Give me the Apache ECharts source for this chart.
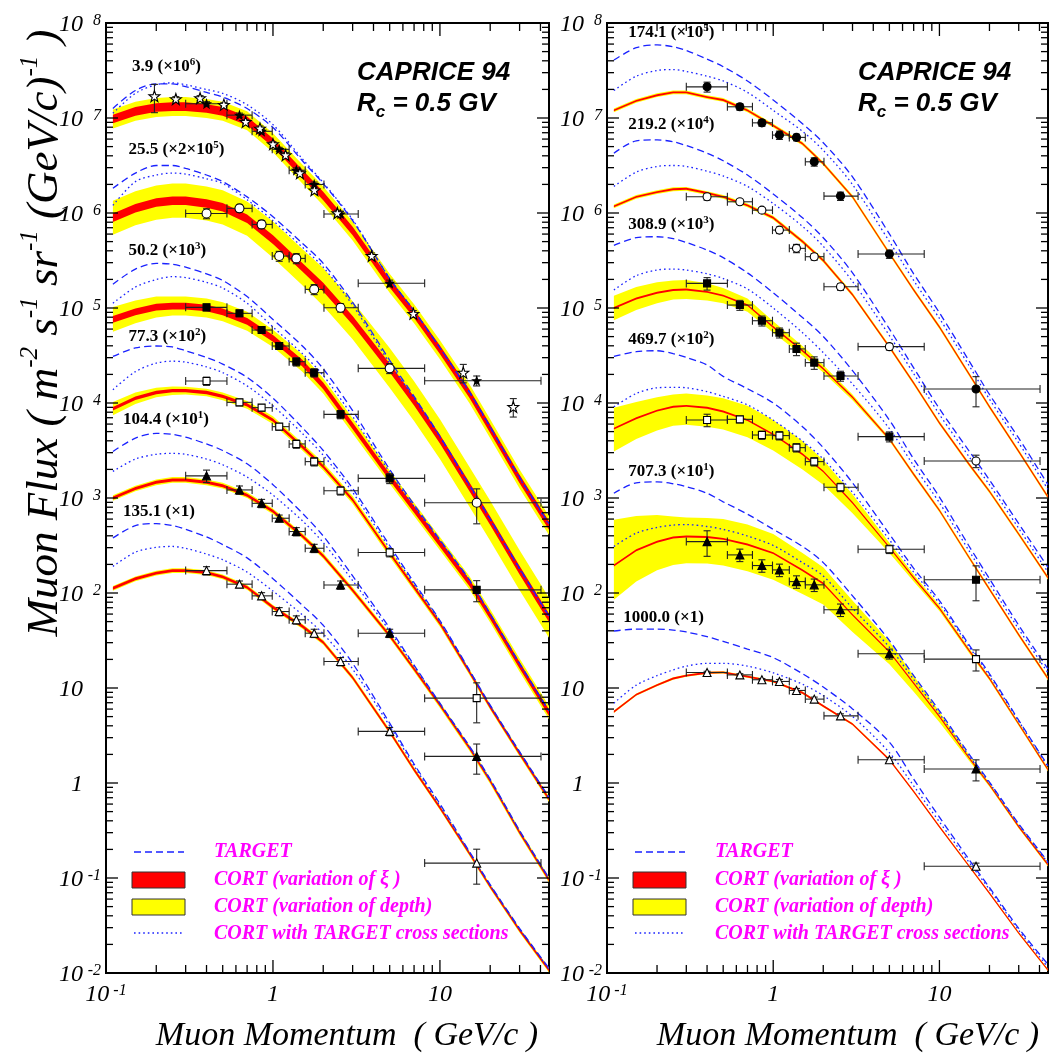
<!DOCTYPE html>
<html><head><meta charset="utf-8">
<script src="https://cdn.jsdelivr.net/npm/echarts@6.0.0/dist/echarts.min.js"></script>
<style>html,body{margin:0;padding:0;background:#fff}#c{width:1051px;height:1057px}</style>
</head><body><div id="c"></div>
<script>
// ---------------- DATA ----------------
// Momentum samples (GeV/c) for the model curves
const momentum = [0.11, 0.15, 0.2, 0.25, 0.3, 0.4, 0.5, 0.7, 1, 1.5, 2, 3, 5, 7, 10, 15, 20, 30, 45];
// All flux values below are log10 of the (scaled) muon flux in m^-2 s^-1 sr^-1 (GeV/c)^-1

// LEFT PANEL --- 3.9 g/cm2 (x10^6)
const L1_cort   = [6.99, 7.07, 7.11, 7.12, 7.12, 7.10, 7.07, 6.97, 6.74, 6.41, 6.18, 5.81, 5.26, 4.94, 4.56, 4.10, 3.73, 3.20, 2.71];
const L1_target = [7.10, 7.29, 7.36, 7.36, 7.33, 7.27, 7.22, 7.10, 6.90, 6.55, 6.31, 5.92, 5.31, 4.97, 4.58, 4.12, 3.75, 3.22, 2.73];
const L1_cortTX = [7.05, 7.26, 7.35, 7.37, 7.35, 7.30, 7.26, 7.14, 6.93, 6.57, 6.32, 5.93, 5.31, 4.97, 4.58, 4.11, 3.74, 3.21, 2.72];
const L1_depthHalf = 0.10, L1_xiHalf = 0.045;
// 25.5 g/cm2 (x2x10^5)
const L2_cort   = [5.95, 6.05, 6.11, 6.13, 6.13, 6.10, 6.06, 5.94, 5.72, 5.43, 5.22, 4.87, 4.37, 4.02, 3.62, 3.12, 2.76, 2.24, 1.74];
const L2_target = [6.26, 6.42, 6.50, 6.50, 6.47, 6.40, 6.33, 6.17, 5.96, 5.68, 5.47, 5.06, 4.45, 4.07, 3.65, 3.14, 2.78, 2.26, 1.76];
const L2_cortTX = [6.08, 6.33, 6.40, 6.42, 6.41, 6.36, 6.31, 6.14, 5.92, 5.64, 5.43, 5.03, 4.42, 4.05, 3.64, 3.13, 2.77, 2.25, 1.75];
const L2_depthHalf = [0.18, 0.18, 0.18, 0.18, 0.18, 0.18, 0.18, 0.18, 0.19, 0.19, 0.20, 0.20, 0.21, 0.21, 0.21, 0.21, 0.21, 0.21, 0.21];
const L2_xiHalf = 0.045;
// 50.2 g/cm2 (x10^3)
const L3_cort   = [4.88, 4.96, 5.01, 5.02, 5.02, 5.00, 4.96, 4.86, 4.68, 4.42, 4.18, 3.76, 3.22, 2.88, 2.52, 2.11, 1.76, 1.24, 0.74];
const L3_target = [5.25, 5.41, 5.47, 5.46, 5.43, 5.36, 5.29, 5.12, 4.88, 4.60, 4.36, 3.92, 3.30, 2.93, 2.56, 2.14, 1.78, 1.26, 0.76];
const L3_cortTX = [5.05, 5.22, 5.30, 5.33, 5.32, 5.27, 5.21, 5.05, 4.80, 4.52, 4.29, 3.86, 3.27, 2.91, 2.55, 2.13, 1.77, 1.25, 0.75];
const L3_depthHalf = [0.13, 0.12, 0.11, 0.10, 0.10, 0.10, 0.10, 0.10, 0.09, 0.09, 0.08, 0.08, 0.07, 0.07, 0.07, 0.07, 0.07, 0.07, 0.07];
const L3_xiHalf = 0.035;
// 77.3 g/cm2 (x10^2)
const L4_cort   = [3.94, 4.05, 4.11, 4.13, 4.13, 4.11, 4.07, 3.98, 3.82, 3.54, 3.33, 2.98, 2.42, 2.06, 1.68, 1.17, 0.80, 0.31, -0.17];
const L4_target = [4.49, 4.58, 4.60, 4.59, 4.55, 4.48, 4.41, 4.27, 4.05, 3.74, 3.50, 3.10, 2.50, 2.11, 1.71, 1.19, 0.82, 0.33, -0.15];
const L4_cortTX = [4.14, 4.33, 4.42, 4.44, 4.43, 4.38, 4.32, 4.18, 3.97, 3.68, 3.45, 3.06, 2.47, 2.09, 1.70, 1.18, 0.81, 0.32, -0.16];
const L4_depthHalf = [0.07, 0.06, 0.05, 0.045, 0.04, 0.04, 0.04, 0.04, 0.04, 0.04, 0.04, 0.04, 0.04, 0.035, 0.035, 0.03, 0.03, 0.03, 0.03];
const L4_xiHalf = 0.018;
// 104.4 g/cm2 (x10)
const L5_cort   = [3.00, 3.10, 3.165, 3.19, 3.19, 3.165, 3.13, 3.03, 2.86, 2.60, 2.39, 2.03, 1.55, 1.20, 0.82, 0.37, 0.02, -0.52, -1.02];
const L5_target = [3.49, 3.63, 3.68, 3.67, 3.64, 3.57, 3.50, 3.36, 3.14, 2.84, 2.60, 2.18, 1.63, 1.24, 0.84, 0.39, 0.04, -0.50, -1.00];
const L5_cortTX = [3.28, 3.41, 3.46, 3.47, 3.46, 3.41, 3.35, 3.22, 3.03, 2.76, 2.53, 2.13, 1.60, 1.23, 0.83, 0.38, 0.03, -0.51, -1.01];
const L5_depthHalf = 0.03, L5_xiHalf = 0.016;
// 135.1 g/cm2 (x1)
const L6_cort   = [2.05, 2.15, 2.21, 2.235, 2.235, 2.215, 2.17, 2.06, 1.85, 1.65, 1.48, 1.11, 0.54, 0.14, -0.26, -0.74, -1.09, -1.55, -1.97];
const L6_target = [2.58, 2.71, 2.73, 2.71, 2.67, 2.59, 2.51, 2.37, 2.15, 1.87, 1.66, 1.26, 0.63, 0.20, -0.22, -0.72, -1.07, -1.53, -1.95];
const L6_cortTX = [2.28, 2.43, 2.48, 2.49, 2.47, 2.41, 2.35, 2.22, 2.02, 1.77, 1.57, 1.20, 0.60, 0.18, -0.24, -0.73, -1.08, -1.54, -1.96];
const L6_depthHalf = 0.025, L6_xiHalf = 0.015;

// RIGHT PANEL --- 174.1 g/cm2 (x10^5)
const R1_cort   = [7.08, 7.18, 7.24, 7.27, 7.27, 7.22, 7.19, 7.08, 6.92, 6.73, 6.52, 6.17, 5.575, 5.19, 4.80, 4.31, 3.96, 3.49, 3.01];
const R1_target = [7.61, 7.74, 7.77, 7.75, 7.71, 7.62, 7.54, 7.39, 7.19, 6.94, 6.74, 6.38, 5.78, 5.36, 4.95, 4.45, 4.09, 3.63, 3.14];
const R1_cortTX = [7.29, 7.44, 7.50, 7.51, 7.49, 7.44, 7.39, 7.27, 7.08, 6.86, 6.66, 6.30, 5.70, 5.29, 4.89, 4.40, 4.04, 3.58, 3.09];
const R1_depthHalf = 0.02, R1_xiHalf = 0.01;
// 219.2 g/cm2 (x10^4)
const R2_cort   = [6.07, 6.17, 6.22, 6.25, 6.255, 6.21, 6.17, 6.08, 5.95, 5.70, 5.50, 5.14, 4.59, 4.21, 3.79, 3.36, 3.07, 2.62, 2.16];
const R2_target = [6.63, 6.76, 6.77, 6.75, 6.71, 6.63, 6.55, 6.40, 6.20, 5.95, 5.74, 5.37, 4.78, 4.37, 3.94, 3.50, 3.19, 2.73, 2.27];
const R2_cortTX = [6.28, 6.43, 6.49, 6.50, 6.49, 6.44, 6.39, 6.28, 6.10, 5.86, 5.65, 5.28, 4.71, 4.31, 3.88, 3.44, 3.14, 2.68, 2.22];
const R2_depthHalf = 0.02, R2_xiHalf = 0.01;
// 308.9 g/cm2 (x10^3)
const R3_cort   = [5.00, 5.10, 5.16, 5.19, 5.195, 5.17, 5.13, 5.03, 4.80, 4.55, 4.36, 4.06, 3.62, 3.25, 2.87, 2.38, 2.04, 1.56, 1.10];
const R3_target = [5.66, 5.74, 5.75, 5.73, 5.69, 5.61, 5.53, 5.37, 5.16, 4.90, 4.70, 4.34, 3.82, 3.41, 3.01, 2.50, 2.15, 1.66, 1.20];
const R3_cortTX = [5.19, 5.34, 5.40, 5.41, 5.40, 5.36, 5.31, 5.20, 5.00, 4.74, 4.53, 4.20, 3.73, 3.34, 2.95, 2.45, 2.10, 1.62, 1.16];
const R3_depthHalf = [0.13, 0.12, 0.11, 0.10, 0.10, 0.09, 0.08, 0.07, 0.06, 0.05, 0.04, 0.03, 0.02, 0.02, 0.02, 0.02, 0.02, 0.02, 0.02];
const R3_xiHalf = 0.01;
// 469.7 g/cm2 (x10^2)
const R4_cort   = [3.73, 3.84, 3.92, 3.96, 3.97, 3.95, 3.91, 3.82, 3.67, 3.46, 3.28, 2.95, 2.48, 2.16, 1.84, 1.40, 1.10, 0.62, 0.14];
const R4_target = [4.49, 4.54, 4.55, 4.52, 4.48, 4.40, 4.28, 4.15, 4.00, 3.75, 3.53, 3.16, 2.62, 2.26, 1.92, 1.46, 1.15, 0.66, 0.18];
const R4_cortTX = [3.96, 4.10, 4.16, 4.165, 4.16, 4.12, 4.07, 3.98, 3.82, 3.60, 3.41, 3.06, 2.56, 2.22, 1.89, 1.44, 1.13, 0.65, 0.17];
const R4_depthHi = [0.22, 0.17, 0.14, 0.13, 0.13, 0.13, 0.14, 0.15, 0.15, 0.14, 0.12, 0.09, 0.05, 0.035, 0.03, 0.025, 0.02, 0.02, 0.02];
const R4_depthLo = [0.24, 0.22, 0.21, 0.20, 0.20, 0.20, 0.19, 0.18, 0.17, 0.16, 0.14, 0.11, 0.06, 0.04, 0.03, 0.025, 0.02, 0.02, 0.02];
const R4_xiHalf = 0.01;
// 707.3 g/cm2 (x10)
const R5_cort   = [2.29, 2.45, 2.54, 2.585, 2.594, 2.59, 2.57, 2.51, 2.42, 2.24, 2.10, 1.77, 1.38, 1.05, 0.70, 0.27, -0.02, -0.46, -0.86];
const R5_target = [3.05, 3.16, 3.17, 3.15, 3.12, 3.05, 2.96, 2.83, 2.67, 2.49, 2.32, 1.97, 1.50, 1.13, 0.76, 0.31, 0.01, -0.43, -0.83];
const R5_cortTX = [2.49, 2.63, 2.69, 2.715, 2.72, 2.70, 2.67, 2.60, 2.50, 2.32, 2.18, 1.84, 1.43, 1.09, 0.73, 0.29, 0.00, -0.44, -0.84];
const R5_depthHi = [0.48, 0.36, 0.28, 0.22, 0.20, 0.20, 0.21, 0.21, 0.20, 0.18, 0.17, 0.15, 0.11, 0.08, 0.05, 0.03, 0.02, 0.02, 0.02];
const R5_depthLo = [0.36, 0.33, 0.30, 0.29, 0.28, 0.28, 0.28, 0.28, 0.28, 0.25, 0.22, 0.18, 0.13, 0.09, 0.06, 0.03, 0.02, 0.02, 0.02];
const R5_xiHalf = 0.01;
// 1000.0 g/cm2 (x1)
const R6_cort   = [0.75, 0.93, 1.03, 1.10, 1.13, 1.16, 1.165, 1.12, 1.07, 0.95, 0.81, 0.62, 0.245, -0.09, -0.46, -0.87, -1.16, -1.58, -1.97];
const R6_target = [1.60, 1.62, 1.62, 1.61, 1.59, 1.54, 1.49, 1.41, 1.32, 1.15, 1.01, 0.78, 0.43, 0.04, -0.36, -0.80, -1.10, -1.53, -1.91];
const R6_cortTX = [0.84, 1.03, 1.13, 1.19, 1.23, 1.26, 1.26, 1.23, 1.16, 1.04, 0.92, 0.70, 0.32, -0.03, -0.41, -0.83, -1.12, -1.55, -1.94];
const R6_depthHalf = 0.012, R6_xiHalf = 0.01;

// CAPRICE 94 measurements: momentum bins (GeV/c)
const binCenter = [0.40, 0.63, 0.855, 1.09, 1.38, 1.765, 2.54, 5.0, 16.6];
const binLow    = [0.30, 0.53, 0.75, 0.99, 1.25, 1.56, 2.02, 3.24, 8.1];
const binHigh   = [0.53, 0.75, 0.99, 1.25, 1.56, 2.02, 3.24, 8.1, 40.3];
// log10 flux and relative errors
const dL1 = [7.15, 7.03, 6.86, 6.67, 6.45, 6.30, 5.99, 5.26, 4.235];
const eL1 = [0.05, 0.05, 0.05, 0.05, 0.06, 0.06, 0.07, 0.08, 0.12];
const dL2 = [5.995, 6.049, 5.88, 5.547, 5.522, 5.196, 5.003, 4.365, 2.95];
const eL2 = [0.12, 0.08, 0.10, 0.12, 0.12, 0.12, 0.10, 0.12, 0.40];
const dL3 = [5.007, 4.944, 4.768, 4.60, 4.435, 4.319, 3.88, 3.207, 2.033];
const eL3 = [0.08, 0.08, 0.08, 0.08, 0.10, 0.10, 0.10, 0.12, 0.25];
const dL4 = [4.231, 4.007, 3.951, 3.751, 3.569, 3.383, 3.077, 2.426, 0.893];
const eL4 = [0.10, 0.08, 0.08, 0.08, 0.10, 0.10, 0.10, 0.10, 0.45];
const dL5 = [3.233, 3.085, 2.944, 2.787, 2.647, 2.471, 2.085, 1.577, 0.28];
const eL5 = [0.15, 0.10, 0.10, 0.08, 0.10, 0.10, 0.10, 0.10, 0.35];
const dL6 = [2.236, 2.093, 1.97, 1.805, 1.718, 1.577, 1.279, 0.543, -0.843];
const eL6 = [0.10, 0.08, 0.08, 0.10, 0.10, 0.10, 0.10, 0.10, 0.40];
// other 3.9 g/cm2 measurement (open stars)
const starMomentum = [0.195, 0.262, 0.366, 0.508, 0.686, 0.836, 1.0, 1.19, 1.45, 1.77, 2.43, 3.9, 6.93, 13.8, 27.5];
const starFlux     = [7.23, 7.20, 7.21, 7.14, 6.96, 6.89, 6.725, 6.61, 6.42, 6.24, 6.0, 5.55, 4.94, 4.32, 3.96];
const starErr      = [0.33, 0.06, 0.06, 0.05, 0.05, 0.06, 0.06, 0.06, 0.06, 0.06, 0.07, 0.07, 0.08, 0.22, 0.22];
const dR1 = [7.328, 7.118, 6.949, 6.82, 6.796, 6.539, 6.178, 5.568, 4.147];
const eR1 = [0.12, 0.08, 0.08, 0.10, 0.08, 0.10, 0.10, 0.10, 0.35];
const dR2 = [6.171, 6.118, 6.03, 5.82, 5.628, 5.54, 5.223, 4.593, 3.39];
const eR2 = [0.08, 0.06, 0.06, 0.08, 0.10, 0.08, 0.08, 0.08, 0.15];
const dR3 = [5.259, 5.031, 4.866, 4.74, 4.569, 4.425, 4.285, 3.646, 2.14];
const eR3 = [0.15, 0.12, 0.12, 0.12, 0.15, 0.15, 0.12, 0.12, 0.40];
const dR4 = [3.821, 3.828, 3.663, 3.657, 3.53, 3.383, 3.113, 2.461, 1.304];
const eR4 = [0.15, 0.08, 0.10, 0.10, 0.10, 0.10, 0.10, 0.10, 0.25];
const dR5 = [2.541, 2.401, 2.289, 2.243, 2.12, 2.086, 1.823, 1.36, 0.147];
const eR5 = [0.30, 0.15, 0.15, 0.15, 0.15, 0.15, 0.15, 0.12, 0.25];
const dR6 = [1.163, 1.138, 1.087, 1.069, 0.974, 0.883, 0.707, 0.245, -0.877];
const eR6 = [0.03, 0.03, 0.03, 0.05, 0.05, 0.05, 0.05, 0.05, 0.08];

// Axis ranges and decade tick exponents
const X_MIN = 0.1, X_MAX = 45, Y_MIN = 0.01, Y_MAX = 1e8;
const yDecades = [-2, -1, 0, 1, 2, 3, 4, 5, 6, 7, 8];

// Annotation texts
const leftLabels  = [['3.9 (\u00d710', '6', ')'], ['25.5 (\u00d72\u00d710', '5', ')'], ['50.2 (\u00d710', '3', ')'], ['77.3 (\u00d710', '2', ')'], ['104.4 (\u00d710', '1', ')'], ['135.1 (\u00d71)', '', '']];
const rightLabels = [['174.1 (\u00d710', '5', ')'], ['219.2 (\u00d710', '4', ')'], ['308.9 (\u00d710', '3', ')'], ['469.7 (\u00d710', '2', ')'], ['707.3 (\u00d710', '1', ')'], ['1000.0 (\u00d71)', '', '']];
const legendTexts = ['TARGET', 'CORT (variation of \u03be )', 'CORT (variation of depth)', 'CORT with TARGET cross sections'];

// ---------------- BUILD ----------------
const P = v => Math.pow(10, v);
const SERIF = 'Liberation Serif', SANS = 'Liberation Sans';
const BLUE = '#1a22ff', RED = '#ff0000', YEL = '#ffff00';
const DASH = [7, 4], DOT = [1.6, 3];
const half = (h, i) => Array.isArray(h) ? h[i] : h;

function bandSeries(g, center, hi, lo, color, z) {
  return {
    type: 'custom', xAxisIndex: g, yAxisIndex: g, clip: true, silent: true, z: z, animation: false,
    data: [[momentum[0], P(center[0])]],
    renderItem: function (params, api) {
      const up = [], dn = [];
      for (let i = 0; i < momentum.length; i++) {
        up.push(api.coord([momentum[i], P(center[i] + half(hi, i))]));
        dn.push(api.coord([momentum[i], P(center[i] - half(lo, i))]));
      }
      return { type: 'polygon', shape: { points: up.concat(dn.reverse()) }, style: { fill: color } };
    }
  };
}
function curveSeries(g, arr, dash, z) {
  return {
    type: 'line', xAxisIndex: g, yAxisIndex: g, data: momentum.map((m, i) => [m, P(arr[i])]),
    showSymbol: false, symbol: 'none', smooth: 0.3, silent: true, z: z, animation: false,
    lineStyle: { color: BLUE, width: 1.3, type: dash }
  };
}
function seg(x1, y1, x2, y2) {
  return { type: 'line', shape: { x1: x1, y1: y1, x2: x2, y2: y2 }, style: { stroke: '#222', lineWidth: 1.1 } };
}
function errSeries(g, xs, xl, xh, logs, errs, z) {
  return {
    type: 'custom', xAxisIndex: g, yAxisIndex: g, clip: true, silent: true, z: z, animation: false,
    data: xs.map((x, i) => { const y = P(logs[i]); return [x, y, xl ? xl[i] : x, xh ? xh[i] : x, y * (1 - errs[i]), y * (1 + errs[i])]; }),
    renderItem: function (params, api) {
      const c = api.coord([api.value(0), api.value(1)]);
      const l = api.coord([api.value(2), api.value(1)]);
      const r = api.coord([api.value(3), api.value(1)]);
      const t = api.coord([api.value(0), api.value(5)]);
      const b = api.coord([api.value(0), api.value(4)]);
      const ch = [];
      if (r[0] - l[0] > 1) {
        ch.push(seg(l[0], c[1], r[0], c[1]));
        ch.push(seg(l[0], c[1] - 4, l[0], c[1] + 4));
        ch.push(seg(r[0], c[1] - 4, r[0], c[1] + 4));
      }
      ch.push(seg(c[0], t[1], c[0], b[1]));
      ch.push(seg(c[0] - 3.5, t[1], c[0] + 3.5, t[1]));
      ch.push(seg(c[0] - 3.5, b[1], c[0] + 3.5, b[1]));
      return { type: 'group', children: ch };
    }
  };
}
const STAR = 'path://M0,-10 L2.35,-3.24 L9.51,-3.09 L3.8,1.24 L5.88,8.09 L0,4 L-5.88,8.09 L-3.8,1.24 L-9.51,-3.09 L-2.35,-3.24 Z';
function markSeries(g, xs, logs, symbol, size, filled, z) {
  return {
    type: 'scatter', xAxisIndex: g, yAxisIndex: g, silent: true, z: z, animation: false,
    data: xs.map((x, i) => [x, P(logs[i])]), symbol: symbol, symbolSize: size,
    itemStyle: { color: filled ? '#000' : '#fff', borderColor: '#000', borderWidth: 1.1, opacity: 1 }
  };
}
const yTickRich = {
  b: { fontSize: 24, lineHeight: 24, fontFamily: SERIF, fontStyle: 'italic', fill: '#000', padding: [8, 0, 4, 0] },
  e: { fontSize: 16, lineHeight: 16, fontFamily: SERIF, fontStyle: 'italic', fill: '#000', padding: [2, 0, 0, 3], verticalAlign: 'top', width: 15, align: 'right' }
};
function yTickText(e) {
  if (e === 0) return '{b|1}{e| }';
  if (e === 1) return '{b|10}{e| }';
  return '{b|10}{e|' + e + '}';
}
function frameTicks(g) {
  return {
    type: 'custom', xAxisIndex: g, yAxisIndex: g, silent: true, z: 30, clip: false, animation: false,
    data: [[1, 1]],
    renderItem: function (params, api) {
      const x0 = api.coord([X_MIN, 1])[0], x1 = api.coord([X_MAX, 1])[0];
      const yT = api.coord([1, Y_MAX])[1], yB = api.coord([1, Y_MIN])[1];
      const st = { stroke: '#000', lineWidth: 1.3 };
      const ch = [];
      for (let e = -2; e <= 8; e++) {
        for (let k = 1; k <= 9; k++) {
          const v = k * Math.pow(10, e);
          if (v > Y_MAX * 1.0001) break;
          const py = api.coord([1, v])[1];
          const len = k === 1 ? 12 : 7;
          ch.push({ type: 'line', shape: { x1: x0, y1: py, x2: x0 + len, y2: py }, style: st });
          ch.push({ type: 'line', shape: { x1: x1 - len, y1: py, x2: x1, y2: py }, style: st });
        }
      }
      for (let e = -1; e <= 1; e++) {
        for (let k = 1; k <= 9; k++) {
          const v = k * Math.pow(10, e);
          if (v > X_MAX) break;
          const px = api.coord([v, 1])[0];
          const len = k === 1 ? 13 : 8;
          ch.push({ type: 'line', shape: { x1: px, y1: yB, x2: px, y2: yB - len }, style: st });
          ch.push({ type: 'line', shape: { x1: px, y1: yT, x2: px, y2: yT + len }, style: st });
        }
      }
      // decade labels of the y axis
      yDecades.forEach(e => {
        const py = api.coord([1, Math.pow(10, e)])[1];
        ch.push({ type: 'text', x: x0 - 5, y: py, style: { text: yTickText(e), rich: yTickRich, align: 'right', verticalAlign: 'middle', fill: '#000' } });
      });
      return { type: 'group', children: ch };
    }
  };
}

const baseTok = { fontSize: 24, lineHeight: 24, fontFamily: SERIF, fontStyle: 'italic', color: '#000', padding: [8, 0, 4, 0], verticalAlign: 'middle' };
const richX = { b: baseTok, e: { fontSize: 16, lineHeight: 16, fontFamily: SERIF, fontStyle: 'italic', color: '#000', padding: [2, 0, 0, 4], verticalAlign: 'top' } };
function decade(v) { const e = Math.log10(v); const r = Math.round(e); return Math.abs(e - r) < 1e-6 ? r : null; }
function fmtX(v) { const r = decade(v); if (r === null) return ''; if (r === 0) return '{b|1}'; if (r === 1) return '{b|10}'; return '{b|10}{e|' + r + '}'; }

const xAxisCfg = g => ({ gridIndex: g, type: 'log', logBase: 10, min: X_MIN, max: X_MAX, splitNumber: 3,
  axisLine: { show: false }, axisTick: { show: false }, minorTick: { show: false }, splitLine: { show: false },
  axisLabel: { show: true, interval: 0, margin: 8, formatter: fmtX, rich: richX, showMinLabel: true, showMaxLabel: true } });
const yAxisCfg = g => ({ gridIndex: g, type: 'log', logBase: 10, min: Y_MIN, max: Y_MAX,
  axisLine: { show: false }, axisTick: { show: false }, minorTick: { show: false }, splitLine: { show: false },
  axisLabel: { show: false } });

const leftFam = [
  { c: L1_cort, t: L1_target, x: L1_cortTX, dh: L1_depthHalf, dl: L1_depthHalf, xi: L1_xiHalf },
  { c: L2_cort, t: L2_target, x: L2_cortTX, dh: L2_depthHalf, dl: L2_depthHalf, xi: L2_xiHalf },
  { c: L3_cort, t: L3_target, x: L3_cortTX, dh: L3_depthHalf, dl: L3_depthHalf, xi: L3_xiHalf },
  { c: L4_cort, t: L4_target, x: L4_cortTX, dh: L4_depthHalf, dl: L4_depthHalf, xi: L4_xiHalf },
  { c: L5_cort, t: L5_target, x: L5_cortTX, dh: L5_depthHalf, dl: L5_depthHalf, xi: L5_xiHalf },
  { c: L6_cort, t: L6_target, x: L6_cortTX, dh: L6_depthHalf, dl: L6_depthHalf, xi: L6_xiHalf }
];
const rightFam = [
  { c: R1_cort, t: R1_target, x: R1_cortTX, dh: R1_depthHalf, dl: R1_depthHalf, xi: R1_xiHalf },
  { c: R2_cort, t: R2_target, x: R2_cortTX, dh: R2_depthHalf, dl: R2_depthHalf, xi: R2_xiHalf },
  { c: R3_cort, t: R3_target, x: R3_cortTX, dh: R3_depthHalf, dl: R3_depthHalf, xi: R3_xiHalf },
  { c: R4_cort, t: R4_target, x: R4_cortTX, dh: R4_depthHi, dl: R4_depthLo, xi: R4_xiHalf },
  { c: R5_cort, t: R5_target, x: R5_cortTX, dh: R5_depthHi, dl: R5_depthLo, xi: R5_xiHalf },
  { c: R6_cort, t: R6_target, x: R6_cortTX, dh: R6_depthHalf, dl: R6_depthHalf, xi: R6_xiHalf }
];

const series = [];
[leftFam, rightFam].forEach((fams, g) => {
  fams.forEach(f => series.push(bandSeries(g, f.c, f.dh, f.dl, YEL, 2)));
  fams.forEach(f => series.push(bandSeries(g, f.c, f.xi, f.xi, RED, 3)));
  fams.forEach(f => { series.push(curveSeries(g, f.t, DASH, 4)); series.push(curveSeries(g, f.x, DOT, 4)); });
  series.push(frameTicks(g));
});
// measurements
const pts = [
  [0, dL1, eL1, STAR, 8, true], [0, dL2, eL2, 'circle', 9, false], [0, dL3, eL3, 'rect', 7, true],
  [0, dL4, eL4, 'rect', 7, false], [0, dL5, eL5, 'triangle', 8, true], [0, dL6, eL6, 'triangle', 8, false],
  [1, dR1, eR1, 'circle', 8, true], [1, dR2, eR2, 'circle', 8, false], [1, dR3, eR3, 'rect', 7, true],
  [1, dR4, eR4, 'rect', 7, false], [1, dR5, eR5, 'triangle', 8, true], [1, dR6, eR6, 'triangle', 8, false]
];
pts.forEach(p => {
  series.push(errSeries(p[0], binCenter, binLow, binHigh, p[1], p[2], 6));
  series.push(markSeries(p[0], binCenter, p[1], p[3], p[4], p[5], 7));
});
series.push(errSeries(0, starMomentum, null, null, starFlux, starErr, 6));
series.push(markSeries(0, starMomentum, starFlux, STAR, 11, false, 7));

// ---------------- GRAPHIC TEXT ----------------
const graphic = [];
function famLabel(x, baseline, lab) {
  const txt = lab[1] ? '{n|' + lab[0] + '}{s|' + lab[1] + '}{n|' + lab[2] + '}' : '{n|' + lab[0] + '}';
  graphic.push({ type: 'text', x: x, y: baseline - 7.5, z: 100, silent: true, style: {
    text: txt, align: 'left', verticalAlign: 'middle', textAlign: 'left', textVerticalAlign: 'middle',
    rich: { n: { fontSize: 17, lineHeight: 17, fontFamily: SERIF, fontWeight: 'bold', fill: '#000', padding: [3, 0, 0, 0] },
            s: { fontSize: 11, lineHeight: 11, fontFamily: SERIF, fontWeight: 'bold', fill: '#000', verticalAlign: 'top' } } } });
}
const leftLabPos = [[132, 73], [128.6, 156], [128.6, 256.7], [128.6, 342.7], [123, 426], [123, 517.3]];
const rightLabPos = [[628.3, 39], [628.3, 130.7], [628.3, 230.7], [628.3, 345.7], [628.3, 477.3], [623.3, 623.3]];
leftLabels.forEach((l, i) => famLabel(leftLabPos[i][0], leftLabPos[i][1], l));
rightLabels.forEach((l, i) => famLabel(rightLabPos[i][0], rightLabPos[i][1], l));

[357, 858].forEach(x => {
  graphic.push({ type: 'text', x: x, y: 72.5, z: 100, silent: true, style: { text: 'CAPRICE 94', font: 'italic bold 26px "Liberation Sans"', fill: '#000', align: 'left', verticalAlign: 'middle', textAlign: 'left', textVerticalAlign: 'middle' } });
  graphic.push({ type: 'text', x: x, y: 107.5, z: 100, silent: true, style: { text: '{a|R}{b|c}{a| = 0.5 GV}', align: 'left', verticalAlign: 'middle', textAlign: 'left', textVerticalAlign: 'middle',
    rich: { a: { fontSize: 26, lineHeight: 26, fontFamily: SANS, fontWeight: 'bold', fontStyle: 'italic', fill: '#000', padding: [0, 0, 7, 0] },
            b: { fontSize: 17, lineHeight: 17, fontFamily: SANS, fontWeight: 'bold', fontStyle: 'italic', fill: '#000', verticalAlign: 'bottom' } } } });
});
// legends
[[134, 184, 214], [635, 685, 715]].forEach(L => {
  const [s0, s1, tx] = L;
  graphic.push({ type: 'line', z: 100, silent: true, shape: { x1: s0, y1: 852, x2: s1, y2: 852 }, style: { stroke: BLUE, lineWidth: 1.3, lineDash: DASH } });
  graphic.push({ type: 'rect', z: 100, silent: true, shape: { x: s0 - 2, y: 872, width: s1 - s0 + 3, height: 16 }, style: { fill: RED, stroke: '#333', lineWidth: 1 } });
  graphic.push({ type: 'rect', z: 100, silent: true, shape: { x: s0 - 2, y: 899, width: s1 - s0 + 3, height: 16 }, style: { fill: YEL, stroke: '#333', lineWidth: 1 } });
  graphic.push({ type: 'line', z: 100, silent: true, shape: { x1: s0, y1: 933, x2: s1, y2: 933 }, style: { stroke: BLUE, lineWidth: 1.6, lineDash: DOT } });
  [852, 880, 907, 934].forEach((y, i) => graphic.push({ type: 'text', x: tx, y: y, z: 100, silent: true,
    style: { text: legendTexts[i], font: 'italic bold 20px "Liberation Serif"', fill: '#ff00ff', align: 'left', verticalAlign: 'middle', textAlign: 'left', textVerticalAlign: 'middle' } }));
});
// axis titles
[347, 848].forEach(x => graphic.push({ type: 'text', x: x, y: 1036, z: 100, silent: true,
  style: { text: 'Muon Momentum  ( GeV/c )', font: 'italic 34px "Liberation Serif"', fill: '#000', align: 'center', verticalAlign: 'middle', textAlign: 'center', textVerticalAlign: 'middle' } }));
graphic.push({ type: 'text', x: 41, y: 333, rotation: Math.PI / 2, z: 100, silent: true, style: {
  text: '{b|Muon Flux ( m}{s|-2}{b| s}{s|-1}{b| sr}{s|-1}{b| (GeV/c)}{s|-1}{b| )}',
  align: 'center', verticalAlign: 'middle', textAlign: 'center', textVerticalAlign: 'middle',
  rich: { b: { fontSize: 45, lineHeight: 46, fontFamily: SERIF, fontStyle: 'italic', fill: '#000', padding: [8, 0, 0, 0] },
          s: { fontSize: 25, lineHeight: 25, fontFamily: SERIF, fontStyle: 'italic', fill: '#000', verticalAlign: 'top' } } } });

const option = {
  animation: false,
  backgroundColor: '#fff',
  grid: [
    { left: 106, top: 23, width: 443, height: 950, show: true, borderColor: '#000', borderWidth: 2, backgroundColor: 'rgba(0,0,0,0)', containLabel: false },
    { left: 607, top: 23, width: 443, height: 950, show: true, borderColor: '#000', borderWidth: 2, backgroundColor: 'rgba(0,0,0,0)', containLabel: false }
  ],
  xAxis: [xAxisCfg(0), xAxisCfg(1)],
  yAxis: [yAxisCfg(0), yAxisCfg(1)],
  series: series,
  graphic: graphic
};
const chart = echarts.init(document.getElementById('c'), null, { renderer: 'canvas', width: 1051, height: 1057 });
chart.setOption(option);
</script></body></html>
